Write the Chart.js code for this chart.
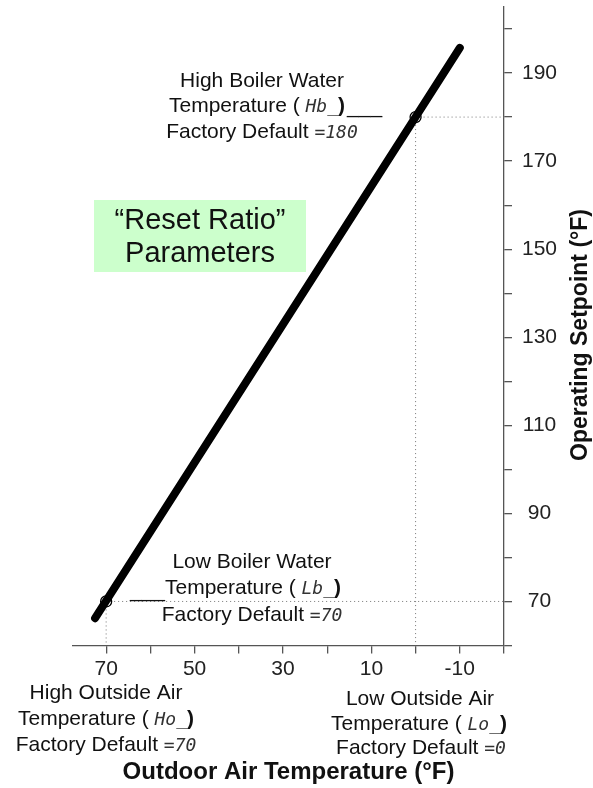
<!DOCTYPE html>
<html>
<head>
<meta charset="utf-8">
<script src="https://cdn.jsdelivr.net/npm/chart.js@4.4.1/dist/chart.umd.min.js"></script>
<style>
  html, body { margin: 0; padding: 0; background: #fff; }
  #wrap { width: 593px; height: 788px; }
</style>
</head>
<body>
<div id="wrap"><canvas id="resetChart"></canvas></div>
<script>
// ends of the reset line: outdoor air temp (x) -> operating setpoint (y)
const lineOutdoor = [72.5, -10];
const lineSetpoint = [66.2, 195.7];

// factory default points: [high outdoor / low boiler, low outdoor / high boiler]
const defaultOutdoor = [70, 0];
const defaultSetpoint = [70, 180];

// labelled ticks
const xTickLabels = [70, 50, 30, 10, -10];
const yTickLabels = [70, 90, 110, 130, 150, 170, 190];

// axis ranges (y axis sits at x = -20, x axis at y = 60)
const xRange = [-20, 77.5];
const yRange = [60, 205];

const SANS = '"Liberation Sans", Arial, sans-serif';
const SEG = '"DejaVu Sans Mono", monospace';
const INK = '#111';
const AXIS = '#555';

Chart.defaults.font.family = SANS;
Chart.defaults.color = INK;

// === Datasets ===
const guides = [];
defaultOutdoor.forEach((x, i) => {
    const y = defaultSetpoint[i];
    guides.push([{ x, y }, { x: xRange[0], y }]);   // across to setpoint axis
    guides.push([{ x, y }, { x, y: yRange[0] }]);   // down to outdoor axis
});

const datasets = [
    {
        label: "defaults",
        data: defaultOutdoor.map((x, i) => ({ x, y: defaultSetpoint[i] })),
        pointRadius: 5.5,
        pointBorderWidth: 1.3,
        pointBorderColor: "#000",
        pointBackgroundColor: "rgba(0,0,0,0)",
        showLine: false
    },
    {
        label: "reset",
        data: lineOutdoor.map((x, i) => ({ x, y: lineSetpoint[i] })),
        borderColor: "#000",
        borderWidth: 8,
        borderCapStyle: "round",
        pointRadius: 0,
        showLine: true
    }
];
guides.forEach(g => datasets.push({
    label: "guide",
    data: g,
    borderColor: "#777",
    borderWidth: 1,
    borderDash: [1, 3],
    pointRadius: 0,
    showLine: true
}));

// === Text helpers ===
function txt(text) { return { text, font: `21px ${SANS}` }; }
function seg(text) { return { text, font: `italic 18px ${SEG}`, color: "#333" }; }
function bold(text) { return { text, font: `bold 21px ${SANS}` }; }

function drawRich(ctx, parts, cx, baseY) {
    let total = 0;
    parts.forEach(p => { ctx.font = p.font; p.w = ctx.measureText(p.text).width; total += p.w; });
    let x = cx - total / 2;
    const left = x;
    parts.forEach(p => {
        ctx.font = p.font;
        ctx.fillStyle = p.color || INK;
        ctx.fillText(p.text, x, baseY);
        x += p.w;
    });
    return { left, right: x };
}

const notes = {
    id: "notes",
    afterDraw(chart) {
        const ctx = chart.ctx;
        const ys = chart.scales.y;
        ctx.save();
        ctx.textAlign = "left";
        ctx.textBaseline = "alphabetic";

        // green box
        ctx.fillStyle = "#ccffcc";
        ctx.fillRect(94, 200, 212, 72);
        ctx.fillStyle = INK;
        ctx.font = `29px ${SANS}`;
        ctx.textAlign = "center";
        ctx.fillText("\u201CReset Ratio\u201D", 200, 229);
        ctx.fillText("Parameters", 200, 262);
        ctx.textAlign = "left";

        // high boiler water
        drawRich(ctx, [txt("High Boiler Water")], 262, 87);
        const hb = drawRich(ctx, [txt("Temperature ( "), seg("Hb_"), bold(")")], 257, 112);
        ctx.font = `21px ${SANS}`;
        ctx.fillStyle = INK;
        ctx.fillText("___", hb.right + 2, ys.getPixelForValue(defaultSetpoint[1]) - 4);
        drawRich(ctx, [txt("Factory Default "), seg("=180")], 262, 138);

        // low boiler water
        drawRich(ctx, [txt("Low Boiler Water")], 252, 568);
        const lb = drawRich(ctx, [txt("Temperature ( "), seg("Lb_"), bold(")")], 253, 594);
        ctx.font = `21px ${SANS}`;
        ctx.fillStyle = INK;
        ctx.textAlign = "right";
        ctx.fillText("___", lb.left, ys.getPixelForValue(defaultSetpoint[0]) - 4);
        ctx.textAlign = "left";
        drawRich(ctx, [txt("Factory Default "), seg("=70")], 252, 621);

        // high outside air
        drawRich(ctx, [txt("High Outside Air")], 106, 699);
        drawRich(ctx, [txt("Temperature ( "), seg("Ho_"), bold(")")], 106, 725);
        drawRich(ctx, [txt("Factory Default "), seg("=70")], 106, 751);

        // low outside air
        drawRich(ctx, [txt("Low Outside Air")], 420, 705);
        drawRich(ctx, [txt("Temperature ( "), seg("Lo_"), bold(")")], 419, 730);
        drawRich(ctx, [txt("Factory Default "), seg("=0")], 421, 754);

        // setpoint axis title, reading bottom to top
        ctx.translate(581, 335);
        ctx.rotate(-Math.PI / 2);
        ctx.textAlign = "center";
        ctx.textBaseline = "middle";
        ctx.font = `bold 23px ${SANS}`;
        ctx.fillStyle = INK;
        ctx.fillText("Operating Setpoint (\u00B0F)", 0, 0);
        ctx.restore();
    }
};

// === Chart ===
new Chart(document.getElementById("resetChart"), {
    type: "scatter",
    data: { datasets },
    options: {
        responsive: true,
        maintainAspectRatio: false,
        animation: false,
        layout: { padding: { left: 73, top: 7, right: 0, bottom: 0 } },
        plugins: { legend: { display: false }, tooltip: { enabled: false } },
        scales: {
            x: {
                type: "linear",
                reverse: true,
                min: xRange[0],
                max: xRange[1],
                afterFit: s => { s.height = 142.5; s.paddingLeft = 0; s.paddingRight = 0; },
                border: { display: true, color: AXIS, width: 1.3 },
                grid: { drawOnChartArea: false, drawTicks: true, tickLength: 8, color: AXIS, lineWidth: 1.3 },
                ticks: {
                    stepSize: 10,
                    includeBounds: false,
                    autoSkip: false,
                    maxRotation: 0,
                    padding: 3,
                    color: "#222",
                    font: { size: 21 },
                    callback: v => xTickLabels.includes(v) ? String(v) : ""
                },
                title: {
                    display: true,
                    text: "Outdoor Air Temperature (\u00B0F)",
                    font: { size: 24, weight: "bold" },
                    color: INK,
                    padding: { top: 0, bottom: 1 }
                }
            },
            y: {
                type: "linear",
                position: "right",
                min: yRange[0],
                max: yRange[1],
                afterFit: s => { s.width = 89; s.paddingTop = 0; s.paddingBottom = 0; },
                border: { display: true, color: AXIS, width: 1.3 },
                grid: { drawOnChartArea: false, drawTicks: true, tickLength: 8, color: AXIS, lineWidth: 1.3 },
                ticks: {
                    stepSize: 10,
                    includeBounds: false,
                    autoSkip: false,
                    padding: 10,
                    crossAlign: "center",
                    color: "#222",
                    font: { size: 21 },
                    callback: v => yTickLabels.includes(v) ? String(v) : ""
                },
                title: { display: false }
            }
        }
    },
    plugins: [notes]
});
</script>
</body>
</html>
